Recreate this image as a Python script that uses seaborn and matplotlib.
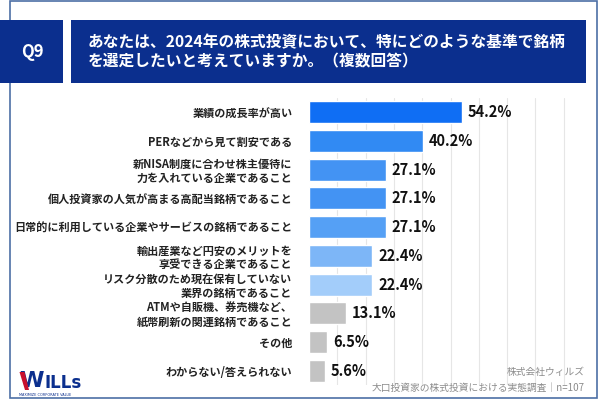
import matplotlib
matplotlib.use("Agg")
import matplotlib.pyplot as plt
from matplotlib.patches import Rectangle, Polygon
import seaborn as sns
import pandas as pd

# データ
categories = [
    "業績の成長率が高い",
    "PERなどから見て割安である",
    "新NISA制度に合わせ株主優待に\n力を入れている企業であること",
    "個人投資家の人気が高まる高配当銘柄であること",
    "日常的に利用している企業やサービスの銘柄であること",
    "輸出産業など円安のメリットを\n享受できる企業であること",
    "リスク分散のため現在保有していない\n業界の銘柄であること",
    "ATMや自販機、券売機など、\n紙幣刷新の関連銘柄であること",
    "その他",
    "わからない/答えられない",
]
values = [54.2, 40.2, 27.1, 27.1, 27.1, 22.4, 22.4, 13.1, 6.5, 5.6]
bar_colors = ["#0f6ef4", "#318af3", "#4393f3", "#4393f3", "#55a0f5",
              "#7db6f7", "#a3cdfa", "#c3c3c3", "#c3c3c3", "#c3c3c3"]
title = "あなたは、2024年の株式投資において、特にどのような基準で銘柄\nを選定したいと考えていますか。（複数回答）"
q_label = "Q9"
source_lines = ["株式会社ウィルズ", "大口投資家の株式投資における実態調査｜n=107"]

sns.set_theme(style="white")
plt.rcParams["font.family"] = ["Noto Sans CJK JP", "DejaVu Sans"]

df = pd.DataFrame({"項目": categories, "割合": values})

W, H = 602, 404
fig = plt.figure(figsize=(W / 100, H / 100), dpi=100)
fig.patch.set_facecolor("white")

def fx(px):
    return px / W

def fy(py):
    return 1 - py / H

# 外枠
fig.patches.append(Rectangle((fx(10), fy(398)), fx(587), (398 - 1) / H,
                             transform=fig.transFigure, fill=False,
                             edgecolor="#4d6fa6", linewidth=1.2))
# ヘッダー
navy = "#0b2f8e"
fig.patches.append(Rectangle((0, fy(83)), fx(63), 63 / H, transform=fig.transFigure,
                             facecolor=navy, edgecolor="none"))
fig.patches.append(Rectangle((fx(71), fy(83)), fx(515), 63 / H, transform=fig.transFigure,
                             facecolor=navy, edgecolor="none"))
fig.text(fx(32), fy(52), q_label, color="white", fontsize=12, fontweight="bold",
         ha="center", va="center")
fig.text(fx(88), fy(52), title, color="white", fontsize=11.3, fontweight="bold",
         ha="left", va="center", linespacing=1.25)

ax = fig.add_axes([fx(309), fy(385), fx(592 - 309), (385 - 98) / H])
sns.barplot(data=df, x="割合", y="項目", hue="項目", palette=bar_colors,
            saturation=1, legend=False, width=0.77, ax=ax, zorder=2)
ax.set_xlim(0, 100)
ax.set_ylim(len(categories) - 0.5, -0.5)
ax.set_xticks(range(10, 100, 10))
ax.xaxis.grid(True, color="#e6e6e6", linewidth=0.8, zorder=0)
ax.set_axisbelow(True)
ax.tick_params(axis="x", bottom=False, labelbottom=False)
ax.tick_params(axis="y", left=False, pad=6)
for lbl in ax.get_yticklabels():
    lbl.set_fontsize(8)
    lbl.set_fontweight("bold")
    lbl.set_color("#222222")
    lbl.set_linespacing(1.1)
ax.set_xlabel("")
ax.set_ylabel("")
for s in ax.spines.values():
    s.set_visible(False)

for i, v in enumerate(values):
    ax.text(v + 2.0, i, f"{v}%", va="center", ha="left", fontsize=10.5,
            fontweight="bold", color="#111111")

# 出典
fig.text(fx(585), fy(372), source_lines[0], color="#8c8c8c", fontsize=7,
         ha="right", va="center")
fig.text(fx(585), fy(388), source_lines[1], color="#8c8c8c", fontsize=7,
         ha="right", va="center")

# ロゴ
fig.text(fx(19), fy(381), "W", color=navy, fontsize=16, fontweight="bold",
         ha="left", va="center", family="DejaVu Sans")
fig.patches.append(Polygon([(fx(19.5), fy(372)), (fx(24.5), fy(372)),
                            (fx(29), fy(390)), (fx(25), fy(390))],
                           closed=True, transform=fig.transFigure,
                           facecolor="#c8102e", edgecolor="none", zorder=5))
fig.text(fx(44), fy(383), "ILLs", color=navy, fontsize=12, fontweight="bold",
         ha="left", va="center", family="DejaVu Sans")
fig.text(fx(45), fy(395), "MAXIMIZE CORPORATE VALUE", color=navy, fontsize=2.5,
         ha="center", va="center", family="DejaVu Sans")

fig.savefig("out.png", dpi=100)
